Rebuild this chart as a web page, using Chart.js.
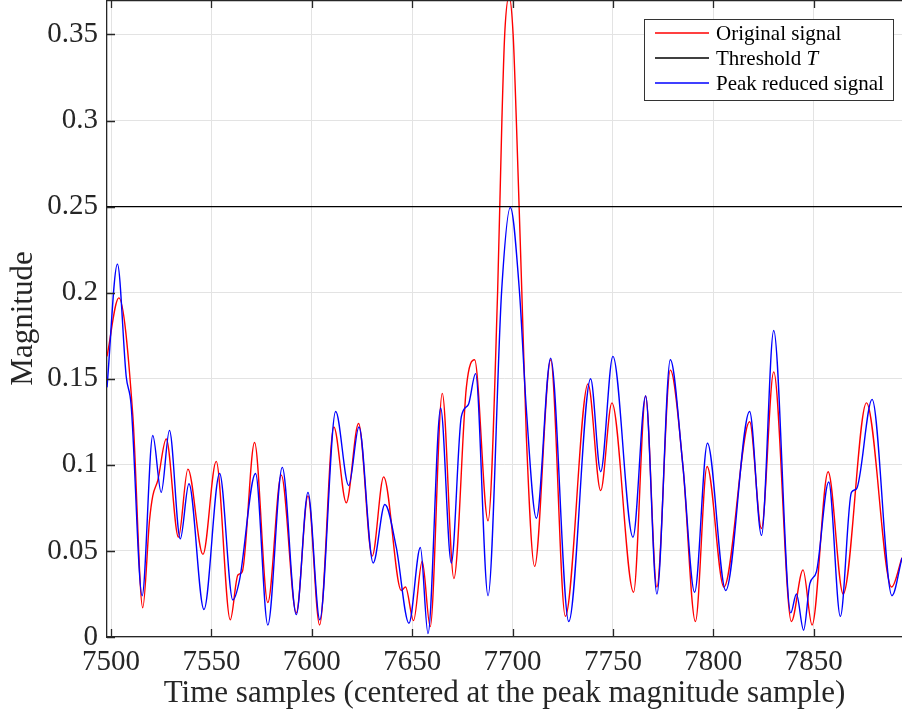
<!DOCTYPE html>
<html>
<head>
<meta charset="utf-8">
<script src="https://cdn.jsdelivr.net/npm/chart.js@4.4.1/dist/chart.umd.min.js"></script>
<style>
  html, body { margin: 0; padding: 0; background: #fff; }
</style>
</head>
<body>
<canvas id="chart" width="902" height="712"></canvas>
<script>
// magnitude around the peak sample, before and after peak reduction
const origX = [7498, 7503.9, 7510.9, 7515.8, 7519.2, 7520.8, 7523.3, 7527.5, 7533.6, 7538.3,
  7545.8, 7552.4, 7559.4, 7563.2, 7565.4, 7571.5, 7578.1, 7584.8, 7592.3, 7598.1,
  7603.9, 7611, 7617.2, 7623.3, 7630.1, 7635.8, 7644.6, 7646.7, 7650.7, 7655,
  7659, 7665, 7670.8, 7677, 7681.1, 7687.8, 7692.6, 7694.7, 7696.1, 7698.3,
  7700.3, 7701.9, 7704.6, 7706.9, 7711, 7719, 7726.3, 7737.6, 7743.9, 7749.5,
  7760.3, 7766.3, 7771.9, 7778.6, 7784.9, 7791.1, 7796.9, 7805.3, 7818.1, 7824,
  7830.1, 7838.9, 7844.7, 7849.2, 7857.2, 7864.7, 7876.3, 7888.8, 7894];
const origY = [0.163, 0.197, 0.128, 0.017, 0.068, 0.082, 0.091, 0.115, 0.058, 0.0975,
  0.048, 0.102, 0.010, 0.036, 0.038, 0.113, 0.020, 0.094, 0.014, 0.082,
  0.007, 0.122, 0.078, 0.124, 0.047, 0.093, 0.027, 0.029, 0.0095, 0.044,
  0.006, 0.1415, 0.034, 0.145, 0.161, 0.0675, 0.2015, 0.30, 0.35, 0.372,
  0.35, 0.30, 0.2015, 0.116, 0.041, 0.161, 0.012, 0.147, 0.085, 0.136,
  0.026, 0.140, 0.029, 0.155, 0.099, 0.009, 0.099, 0.029, 0.125, 0.063,
  0.154, 0.009, 0.039, 0.007, 0.096, 0.025, 0.136, 0.029, 0.046];

const reducedX = [7498, 7503.2, 7507.6, 7510, 7515.5, 7520.8, 7525, 7529.1, 7534.5, 7538.8,
  7546.3, 7554.1, 7560.7, 7564, 7572, 7578.1, 7585.3, 7592.3, 7598.1, 7604,
  7611.9, 7618.4, 7623.5, 7630.6, 7636.4, 7642.1, 7648.4, 7654.1, 7657.9, 7664.2,
  7669.5, 7674.5, 7678, 7681.6, 7687.8, 7694.6, 7698.9, 7703.4, 7706.9, 7711.9,
  7719, 7728, 7738.9, 7743.9, 7750, 7760, 7766.3, 7771.9, 7778.6, 7784.9,
  7790.7, 7797.1, 7806.2, 7818.1, 7824, 7830.1, 7838.6, 7841.4, 7845, 7848.1,
  7851.4, 7857.5, 7863.3, 7868.8, 7871.3, 7879.1, 7889, 7894];
const reducedY = [0.145, 0.2166, 0.151, 0.135, 0.024, 0.117, 0.084, 0.120, 0.057, 0.089,
  0.016, 0.095, 0.0215, 0.033, 0.095, 0.007, 0.0985, 0.013, 0.084, 0.010,
  0.131, 0.088, 0.122, 0.043, 0.077, 0.052, 0.008, 0.052, 0.002, 0.133,
  0.043, 0.128, 0.135, 0.153, 0.024, 0.2015, 0.2495, 0.2015, 0.132, 0.069,
  0.162, 0.009, 0.150, 0.096, 0.163, 0.058, 0.140, 0.025, 0.161, 0.099,
  0.026, 0.1125, 0.027, 0.131, 0.059, 0.178, 0.014, 0.025, 0.004, 0.031,
  0.038, 0.090, 0.012, 0.084, 0.086, 0.138, 0.024, 0.046];

const threshold = 0.25;
const xRange = [7498, 7894];
const yRange = [0, 0.37];
const xTicks = [7500, 7550, 7600, 7650, 7700, 7750, 7800, 7850];
const yTicks = [0, 0.05, 0.1, 0.15, 0.2, 0.25, 0.3, 0.35];
const yTickLabels = ['0', '0.05', '0.1', '0.15', '0.2', '0.25', '0.3', '0.35'];
const seriesNames = ['Original signal', 'Threshold', 'Peak reduced signal'];
const seriesColors = ['#ff0000', '#000000', '#0000ff'];

const SERIF = '"Liberation Serif", "Times New Roman", serif';
const AXIS = '#262626';

const toPoints = (xs, ys) => xs.map((x, i) => ({ x: x, y: ys[i] }));

// box, inward ticks and legend drawn over the plot
const framePlugin = {
  id: 'frame',
  afterDraw(chart) {
    const ctx = chart.ctx;
    const area = chart.chartArea;
    const xs = chart.scales.x, ys = chart.scales.y;
    const tick = 8;
    ctx.save();
    ctx.strokeStyle = AXIS;
    ctx.lineWidth = 1.3;
    ctx.beginPath();
    ctx.moveTo(area.left, area.top + 0.65);
    ctx.lineTo(area.right, area.top + 0.65);
    xTicks.forEach(v => {
      const px = Math.round(xs.getPixelForValue(v)) + 0.5;
      ctx.moveTo(px, area.bottom);
      ctx.lineTo(px, area.bottom - tick);
      ctx.moveTo(px, area.top);
      ctx.lineTo(px, area.top + tick);
    });
    yTicks.forEach(v => {
      const py = Math.round(ys.getPixelForValue(v)) + 0.5;
      ctx.moveTo(area.left, py);
      ctx.lineTo(area.left + tick, py);
    });
    ctx.stroke();

    // legend
    const boxW = 249, boxH = 81;
    const bx = area.right - 9 - boxW, by = area.top + 19;
    ctx.fillStyle = '#fff';
    ctx.fillRect(bx, by, boxW, boxH);
    ctx.strokeStyle = '#333';
    ctx.lineWidth = 1;
    ctx.strokeRect(bx + 0.5, by + 0.5, boxW, boxH);
    ctx.textBaseline = 'middle';
    seriesNames.forEach((name, i) => {
      const ly = by + 14 + i * 25;
      ctx.strokeStyle = seriesColors[i];
      ctx.lineWidth = 1.3;
      ctx.beginPath();
      ctx.moveTo(bx + 11, ly);
      ctx.lineTo(bx + 65, ly);
      ctx.stroke();
      ctx.fillStyle = '#000';
      ctx.font = '21px ' + SERIF;
      ctx.fillText(name, bx + 72, ly + 1);
      if (name === 'Threshold') {
        const w = ctx.measureText(name + ' ').width;
        ctx.font = 'italic 21px ' + SERIF;
        ctx.fillText('T', bx + 72 + w, ly + 1);
      }
    });
    ctx.restore();
  }
};

new Chart(document.getElementById('chart'), {
  type: 'line',
  data: {
    datasets: [
      {
        label: seriesNames[2],
        data: toPoints(reducedX, reducedY),
        borderColor: seriesColors[2],
        order: 0
      },
      {
        label: seriesNames[1],
        data: toPoints(xRange, [threshold, threshold]),
        borderColor: seriesColors[1],
        order: 1
      },
      {
        label: seriesNames[0],
        data: toPoints(origX, origY),
        borderColor: seriesColors[0],
        order: 2
      }
    ]
  },
  options: {
    responsive: false,
    animation: false,
    devicePixelRatio: 1,
    layout: { padding: 0 },
    elements: {
      line: { borderWidth: 1.4, cubicInterpolationMode: 'monotone', fill: false },
      point: { radius: 0 }
    },
    plugins: {
      legend: { display: false },
      tooltip: { enabled: false }
    },
    scales: {
      x: {
        type: 'linear',
        min: xRange[0],
        max: xRange[1],
        afterBuildTicks: s => { s.ticks = xTicks.map(v => ({ value: v })); },
        afterFit: s => {
          s.height = 75;
          s.paddingLeft = 0;
          s.paddingRight = 0;
        },
        ticks: {
          font: { family: SERIF, size: 29 },
          color: AXIS,
          padding: 8,
          maxRotation: 0,
          autoSkip: false,
          callback: v => String(v)
        },
        grid: { color: '#e3e3e3', lineWidth: 1, drawTicks: false },
        border: { display: true, color: AXIS, width: 1.3 },
        title: {
          display: true,
          text: 'Time samples (centered at the peak magnitude sample)',
          font: { family: SERIF, size: 31 },
          color: AXIS,
          padding: { top: 0, bottom: 0 }
        }
      },
      y: {
        min: yRange[0],
        max: yRange[1],
        afterBuildTicks: s => { s.ticks = yTicks.map(v => ({ value: v })); },
        afterFit: s => {
          s.width = 107;
          s.paddingTop = 0;
          s.paddingBottom = 0;
        },
        ticks: {
          font: { family: SERIF, size: 29 },
          color: AXIS,
          padding: 9,
          autoSkip: false,
          callback: v => yTickLabels[yTicks.indexOf(v)]
        },
        grid: { color: '#e3e3e3', lineWidth: 1, drawTicks: false },
        border: { display: true, color: AXIS, width: 1.3 },
        title: {
          display: true,
          text: 'Magnitude',
          font: { family: SERIF, size: 31 },
          color: AXIS,
          padding: { top: 5, bottom: 0 }
        }
      }
    }
  },
  plugins: [framePlugin]
});
</script>
</body>
</html>
